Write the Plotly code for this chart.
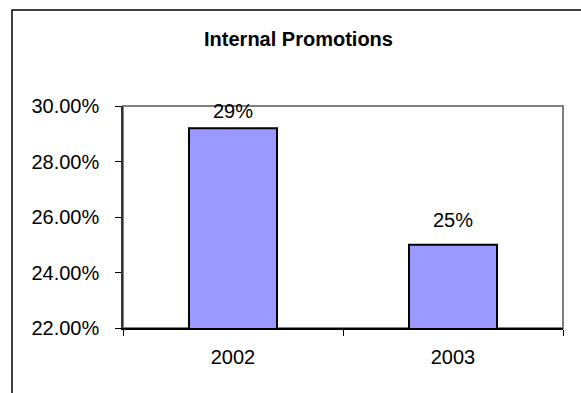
import plotly.graph_objects as go

categories = ["2002", "2003"]
values = [0.292, 0.250]
labels = ["29%", "25%"]
label_offsets = [4, 12]
y_ticks = [0.22, 0.24, 0.26, 0.28, 0.30]

W, H = 581, 393
ML, MR, MT, MB = 123, 18, 106, 65
FONT = "Arial, Liberation Sans, sans-serif"

fig = go.Figure()
fig.add_trace(go.Bar(
    x=categories, y=values,
    marker=dict(color="#9999FF", line=dict(color="black", width=2)),
    width=0.4, cliponaxis=False, hoverinfo="skip",
))

for i, (v, t, o) in enumerate(zip(values, labels, label_offsets)):
    fig.add_annotation(x=i, y=v, xref="x", yref="y", text=t, showarrow=False,
                       yanchor="bottom", yshift=o,
                       font=dict(size=20, color="black", family=FONT))

pw = W - ML - MR
ph = H - MT - MB
# outer chart-area border (left and top edges visible)
fig.add_shape(type="rect", xref="paper", yref="paper",
              x0=(12 - ML) / pw, x1=2.0, y0=-1.0, y1=(H - MB - 10) / ph,
              line=dict(color="black", width=1.5), layer="below")
# plot-area border
fig.add_shape(type="rect", xref="paper", yref="paper", x0=0, x1=1, y0=0, y1=1,
              line=dict(color="#808080", width=2), layer="below")

fig.update_layout(
    width=W, height=H,
    margin=dict(l=ML, r=MR, t=MT, b=MB, pad=0),
    paper_bgcolor="white", plot_bgcolor="white",
    showlegend=False,
    font=dict(family=FONT, size=20, color="black"),
    title=dict(text="<b>Internal Promotions</b>", x=298.5 / W, xanchor="center",
               y=1 - 38.5 / H, yanchor="middle", xref="container", yref="container",
               font=dict(size=20, family=FONT, color="black")),
    xaxis=dict(type="category", range=[-0.5, 1.5], showline=True, linecolor="black",
               linewidth=1.5, ticks="outside", tickson="boundaries", ticklen=6,
               tickcolor="black", tickwidth=1, showgrid=False, zeroline=False,
               ticklabelstandoff=10, tickfont=dict(size=20)),
    yaxis=dict(range=[0.22, 0.30], tickvals=y_ticks, tickformat=".2%", showline=True,
               linecolor="#333333", linewidth=1.5, ticks="outside", ticklen=6,
               tickcolor="black", tickwidth=1, showgrid=False, zeroline=False,
               ticklabelstandoff=12, tickfont=dict(size=20)),
)

fig.write_html("out.html")
